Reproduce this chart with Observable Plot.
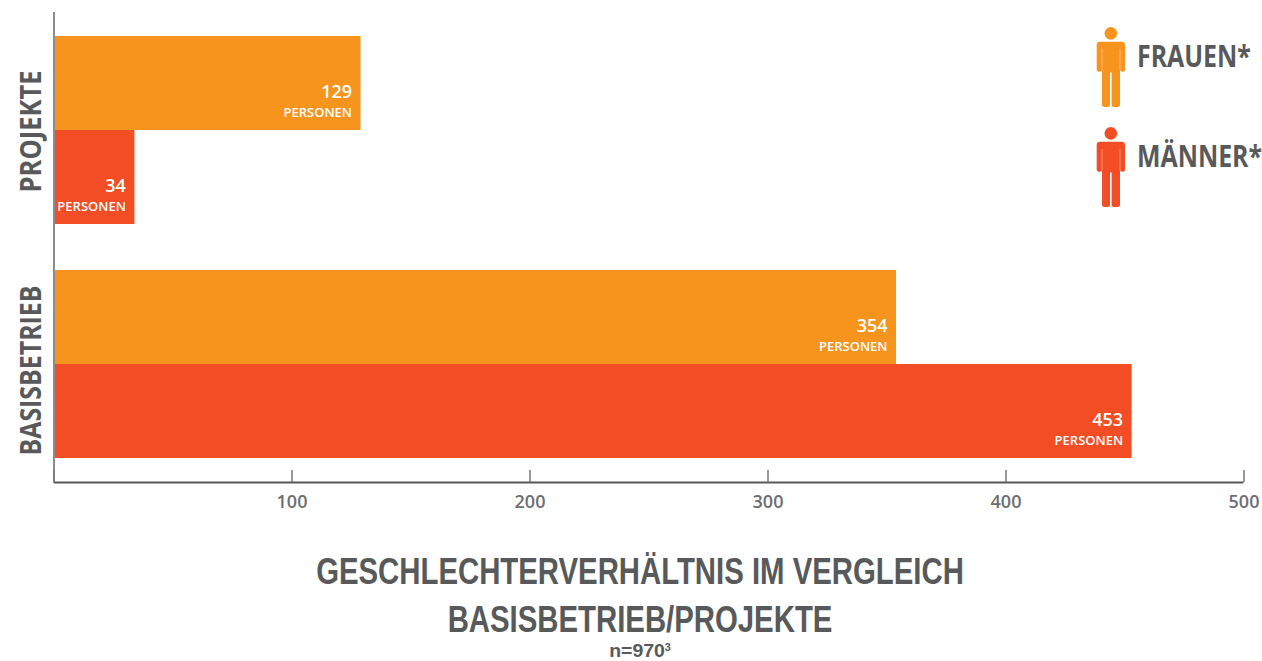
<!DOCTYPE html>
<html lang="de">
<head>
<meta charset="utf-8">
<script src="https://cdn.jsdelivr.net/npm/d3@7"></script>
<script src="https://cdn.jsdelivr.net/npm/@observablehq/plot@0.6"></script>
<style>
html,body{margin:0;padding:0;background:#fff;overflow:hidden;width:1262px;height:661px}
#wrap{position:relative;width:1262px;height:661px;color:#58595b}
#chart svg{display:block}
.t{position:absolute;white-space:nowrap;line-height:1;font-weight:700}
.title{left:640px;transform:translateX(-50%) scaleX(.815);font-family:"Liberation Sans",sans-serif;font-size:36px}
.leg{left:1137px;font-family:"Open Sans",sans-serif;font-size:30px;transform-origin:left center;transform:scaleX(.83)}
.icon{position:absolute;left:1096px;width:30px;height:80px}
sup{font-size:10px;vertical-align:baseline;position:relative;top:-6px}
</style>
</head>
<body>
<div id="wrap">
<div id="chart"></div>
<svg class="icon" style="top:27px" viewBox="0 0 30 80"><use href="#person" fill="#f7941e"/></svg>
<svg class="icon" style="top:127px" viewBox="0 0 30 80"><use href="#person" fill="#f34d25"/></svg>
<svg width="0" height="0" style="position:absolute"><defs><g id="person">
<circle cx="14.8" cy="6.4" r="6.3"/>
<path d="M4 14.7H25.6Q29 14.7 29 18V42.7Q29 44.7 27 44.7Q25 44.7 24 43.5V78Q24 80 21 80H18Q15.6 80 15.6 78V45.5H14V78Q14 80 11.6 80H8.6Q6 80 6 78V43.5Q5 44.7 3 44.7Q.7 44.7 .7 42.7V18Q.7 14.7 4 14.7Z"/>
<path d="M6 22V43.5M24 22V43.5" stroke="#fff" stroke-opacity=".45" stroke-width=".9" fill="none"/>
</g></defs></svg>
<div class="t leg" style="top:41px">FRAUEN*</div>
<div class="t leg" style="top:141px">MÄNNER*</div>
<div class="t title" style="top:554px">GESCHLECHTERVERHÄLTNIS IM VERGLEICH</div>
<div class="t title" style="top:602px">BASISBETRIEB/PROJEKTE</div>
<div class="t" style="left:640px;transform:translateX(-50%) scaleX(1.08);top:641px;font:700 18px 'Liberation Sans',sans-serif">n=970<sup>3</sup></div>
</div>
<script>
const categories = ["PROJEKTE", "BASISBETRIEB"];
const categoryLength = [122, 170];
const categoryShift = [1, 6];
const rowCategory = ["PROJEKTE", "PROJEKTE", "BASISBETRIEB", "BASISBETRIEB"];
const rowGender = ["Frauen", "Männer", "Frauen", "Männer"];
const rowValue = [129, 34, 354, 453];
const xTicks = [0, 100, 200, 300, 400, 500];
const genders = ["Frauen", "Männer"];
const colors = ["#f7941e", "#f34d25"];
const unit = "PERSONEN";

// vertical layout in units of one bar thickness
const edge = 24 / 94, gap = 46 / 94;
const rows = rowValue.map((value, i) => {
  const top = edge + i + (i >= 2 ? gap : 0);
  return {category: rowCategory[i], gender: rowGender[i], value, top, bottom: top + 1, mid: top + 0.5};
});
const groups = categories.map((c, i) => {
  const r = rows.filter(d => d.category === c);
  return {name: c, mid: (r[0].top + r[r.length - 1].bottom) / 2 + categoryShift[i] / 94};
});
const gray = "#58595b";

const plot = Plot.plot({
  width: 1262,
  height: 530,
  marginTop: 12,
  marginBottom: 48,
  marginLeft: 53.5,
  marginRight: 18.5,
  style: {background: "transparent", fontFamily: "'Open Sans',sans-serif"},
  x: {domain: [0, 500], axis: null},
  y: {domain: [0, 5], reverse: true, axis: null},
  color: {domain: genders, range: colors},
  marks: [
    Plot.rectX(rows, {x1: 0, x2: "value", y1: "top", y2: "bottom", fill: "gender"}),
    Plot.text(rows, {x: "value", y: "mid", text: d => String(d.value), dx: -9, dy: 9,
      textAnchor: "end", fill: "#fff", fontSize: 18, fontWeight: 600}),
    Plot.text(rows, {x: "value", y: "mid", text: () => unit, dx: -9, dy: 29.5,
      textAnchor: "end", fill: "#fff", fontSize: 13, fontWeight: 600}),
    Plot.ruleX([0], {stroke: "#8a8c8e", strokeWidth: 2}),
    Plot.ruleY([5], {stroke: gray, strokeWidth: 2}),
    Plot.tickX(xTicks, {x: d => d, insetTop: 458, stroke: "#77787b", strokeWidth: 1.5}),
    Plot.text(xTicks.filter(d => d > 0), {x: d => d, text: d => String(d), frameAnchor: "bottom", dy: 25,
      fill: "#6d6e71", fontSize: 18, fontWeight: 600}),
    Plot.text(groups, {x: 0, y: "mid", text: "name", rotate: -90, dx: -22, textAnchor: "middle",
      fontSize: 29, fontWeight: 700, fill: gray})
  ]
});
d3.select(plot).selectAll("text").each(function() {
  const i = categories.indexOf(this.textContent);
  if (i >= 0) {
    this.setAttribute("textLength", categoryLength[i]);
    this.setAttribute("lengthAdjust", "spacingAndGlyphs");
  }
});
document.getElementById("chart").appendChild(plot);
</script>
</body>
</html>
